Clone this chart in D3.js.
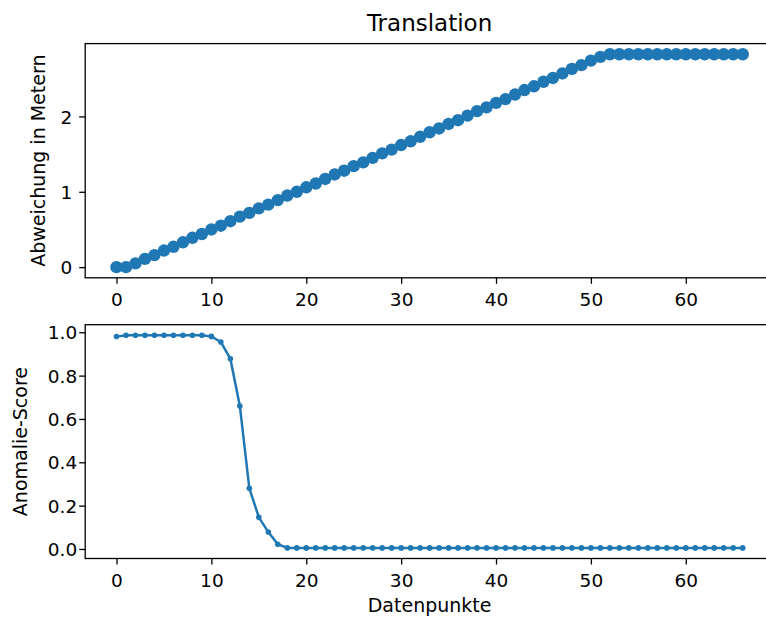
<!DOCTYPE html>
<html>
<head>
<meta charset="utf-8">
<script src="https://cdn.jsdelivr.net/npm/d3@7"></script>
<style>
  body { margin: 0; background: #fff; }
  text { font-family: "DejaVu Sans", sans-serif; fill: #000; }
</style>
</head>
<body>
<svg id="chart" width="766" height="617"></svg>
<script>
// values
const deviation = [
  0.00, 0.00, 0.05, 0.11, 0.16, 0.22, 0.27, 0.33, 0.39, 0.44,
  0.50, 0.55, 0.61, 0.67, 0.72, 0.78, 0.83, 0.89, 0.95, 1.00,
  1.06, 1.11, 1.17, 1.23, 1.28, 1.34, 1.39, 1.45, 1.51, 1.56,
  1.62, 1.67, 1.73, 1.79, 1.84, 1.90, 1.95, 2.01, 2.07, 2.12,
  2.18, 2.23, 2.29, 2.35, 2.40, 2.46, 2.51, 2.57, 2.63, 2.68,
  2.74, 2.79, 2.825, 2.825, 2.825, 2.825, 2.825, 2.825, 2.825, 2.825,
  2.825, 2.825, 2.825, 2.825, 2.825, 2.825, 2.825
];

const anomalyScore = [
  0.980, 0.986, 0.986, 0.986, 0.986, 0.986, 0.986, 0.986, 0.986, 0.986,
  0.981, 0.955, 0.878, 0.660, 0.280, 0.146, 0.078, 0.022, 0.005, 0.005,
  0.005, 0.005, 0.005, 0.005, 0.005, 0.005, 0.005, 0.005, 0.005, 0.005,
  0.005, 0.005, 0.005, 0.005, 0.005, 0.005, 0.005, 0.005, 0.005, 0.005,
  0.005, 0.005, 0.005, 0.005, 0.005, 0.005, 0.005, 0.005, 0.005, 0.005,
  0.005, 0.005, 0.005, 0.005, 0.005, 0.005, 0.005, 0.005, 0.005, 0.005,
  0.005, 0.005, 0.005, 0.005, 0.005, 0.005, 0.005
];

const xTicks = [0, 10, 20, 30, 40, 50, 60];
const topYTicks = [0, 1, 2];
const bottomYTicks = [0, 0.2, 0.4, 0.6, 0.8, 1.0];

const blue = "#1f77b4";
const svg = d3.select("#chart");

const left = 85.2, right = 774;
const x = d3.scaleLinear().domain([-3.3, 69.3]).range([left, right]);

const yTop = d3.scaleLinear().domain([-0.14125, 2.96625]).range([277.8, 43.6]);
const yBot = d3.scaleLinear().domain([-0.044, 1.035]).range([558.5, 324.7]);

function drawAxes(y, yTicks, fmt, labelX) {
  const [bottom, top] = y.range();

  const gx = svg.append("g")
    .attr("transform", `translate(0,${bottom})`)
    .call(d3.axisBottom(x).tickValues(xTicks).tickSize(6).tickFormat(d3.format("d")));
  gx.select(".domain").remove();
  gx.selectAll(".tick line").attr("stroke", "#000").attr("stroke-width", 1.3);
  gx.selectAll(".tick text").attr("y", 28.5).attr("dy", null)
    .style("font-size", "18.5px");

  const gy = svg.append("g")
    .attr("transform", `translate(${left},0)`)
    .call(d3.axisLeft(y).tickValues(yTicks).tickSize(6).tickFormat(fmt));
  gy.select(".domain").remove();
  gy.selectAll(".tick line").attr("stroke", "#000").attr("stroke-width", 1.3);
  gy.selectAll(".tick text").attr("x", labelX).attr("dy", "0.36em")
    .style("font-size", "18.5px");

  // box
  svg.append("rect")
    .attr("x", left).attr("y", top)
    .attr("width", right - left).attr("height", bottom - top)
    .attr("fill", "none").attr("stroke", "#000").attr("stroke-width", 1.3);
}

// top panel
drawAxes(yTop, topYTicks, d3.format("d"), -13);

svg.append("g").selectAll("circle")
  .data(deviation)
  .join("circle")
  .attr("cx", (d, i) => x(i))
  .attr("cy", d => yTop(d))
  .attr("r", 6.2)
  .attr("fill", blue);

svg.append("text")
  .attr("x", (left + right) / 2).attr("y", 31)
  .attr("text-anchor", "middle")
  .style("font-size", "23px")
  .text("Translation");

svg.append("text")
  .attr("transform", `translate(45,${(277.8 + 43.6) / 2}) rotate(-90)`)
  .attr("text-anchor", "middle")
  .style("font-size", "19px")
  .text("Abweichung in Metern");

// bottom panel
drawAxes(yBot, bottomYTicks, d3.format(".1f"), -8);

svg.append("path")
  .datum(anomalyScore)
  .attr("d", d3.line().x((d, i) => x(i)).y(d => yBot(d)))
  .attr("fill", "none")
  .attr("stroke", blue)
  .attr("stroke-width", 2.5);

svg.append("g").selectAll("circle")
  .data(anomalyScore)
  .join("circle")
  .attr("cx", (d, i) => x(i))
  .attr("cy", d => yBot(d))
  .attr("r", 2.8)
  .attr("fill", blue);

svg.append("text")
  .attr("transform", `translate(27,${(558.5 + 324.7) / 2}) rotate(-90)`)
  .attr("text-anchor", "middle")
  .style("font-size", "19px")
  .text("Anomalie-Score");

svg.append("text")
  .attr("x", (left + right) / 2).attr("y", 612)
  .attr("text-anchor", "middle")
  .style("font-size", "19px")
  .text("Datenpunkte");
</script>
</body>
</html>
